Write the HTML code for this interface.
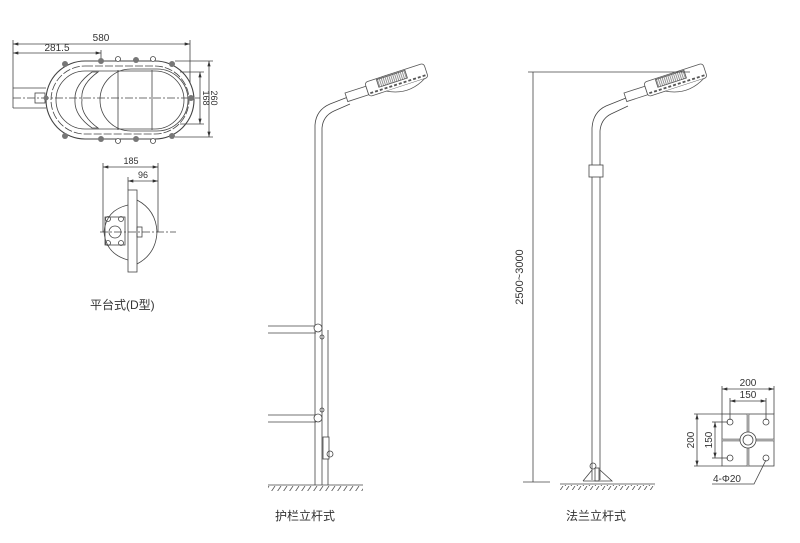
<!DOCTYPE html>
<html><head><meta charset="utf-8"><style>
html,body{margin:0;padding:0;background:#fff;}
svg{display:block;}
text{font-family:"Liberation Sans","Noto Sans CJK SC",sans-serif;fill:#333;}
</style></head><body>
<svg width="800" height="543" viewBox="0 0 800 543" xmlns="http://www.w3.org/2000/svg">
<defs>
<marker id="a" viewBox="0 0 10 6" refX="10" refY="3" markerWidth="7" markerHeight="4" orient="auto-start-reverse"><path d="M0,0L10,3L0,6z" fill="#333"/></marker>
<pattern id="h" width="6" height="6" patternUnits="userSpaceOnUse"><path d="M5,0L1,6" stroke="#555" stroke-width="0.8"/></pattern>
<pattern id="fins" width="2" height="7" patternUnits="userSpaceOnUse"><path d="M1,0V7" stroke="#666" stroke-width="0.7"/></pattern>
<g id="lamp" fill="#fff" stroke="#555" stroke-width="0.8">
 <rect x="0" y="0" width="22" height="9"/>
 <rect x="22" y="-4" width="62" height="15" rx="3"/>
 <rect x="34" y="-3" width="30" height="8" fill="url(#fins)"/>
 <path d="M40,11 Q60,22 80,11" fill="#fff"/>
 <path d="M24,8 H84" stroke-dasharray="3,2" stroke-width="1.8"/>
</g>
</defs>
<g stroke="#444" stroke-width="0.8" fill="none">
<line x1="13" y1="44" x2="190" y2="44" marker-start="url(#a)" marker-end="url(#a)"/>
<line x1="13" y1="53" x2="101" y2="53" marker-start="url(#a)" marker-end="url(#a)"/>
<line x1="13" y1="40" x2="13" y2="108"/>
<line x1="190" y1="40" x2="190" y2="98"/>
<line x1="101" y1="50" x2="101" y2="138"/>
<rect x="46" y="61" width="148" height="78" rx="39" fill="#fff" stroke-width="1.1"/>
<rect x="51" y="66" width="138" height="68" rx="34" stroke-dasharray="8,2"/>
<rect x="56" y="71" width="128" height="58" rx="29"/>
<rect x="100" y="69" width="88" height="62" rx="31"/>
<line x1="118" y1="70" x2="118" y2="130"/><line x1="152" y1="70" x2="152" y2="130"/>
<path d="M98,72 Q80,85 82,100 Q80,115 98,128 L92,128 Q74,115 75,100 Q74,85 92,72z"/>
<rect x="35" y="93" width="10" height="10"/>
<line x1="13" y1="98" x2="200" y2="98" stroke-dasharray="8,2,2,2"/>
<line x1="13" y1="88" x2="46" y2="88"/><line x1="13" y1="108" x2="46" y2="108"/>
<g fill="#777" stroke="none">
<circle cx="65" cy="64" r="3"/><circle cx="101" cy="61" r="3"/><circle cx="136" cy="60" r="3"/><circle cx="172" cy="64" r="3"/>
<circle cx="65" cy="136" r="3"/><circle cx="101" cy="139" r="3"/><circle cx="136" cy="139" r="3"/><circle cx="172" cy="136" r="3"/>
<circle cx="46" cy="98" r="2.5"/><circle cx="191" cy="98" r="3"/>
</g>
<g fill="#fff"><circle cx="118" cy="59" r="2.5"/><circle cx="153" cy="59" r="2.5"/><circle cx="118" cy="141" r="2.5"/><circle cx="153" cy="141" r="2.5"/></g>
<line x1="200" y1="72" x2="200" y2="124" marker-start="url(#a)" marker-end="url(#a)"/>
<line x1="209" y1="61" x2="209" y2="137" marker-start="url(#a)" marker-end="url(#a)"/>
<line x1="180" y1="72" x2="204" y2="72"/><line x1="180" y1="124" x2="204" y2="124"/>
<line x1="175" y1="61" x2="213" y2="61"/><line x1="175" y1="137" x2="213" y2="137"/>
<line x1="103" y1="167" x2="158" y2="167" marker-start="url(#a)" marker-end="url(#a)"/>
<line x1="128" y1="181" x2="158" y2="181" marker-start="url(#a)" marker-end="url(#a)"/>
<line x1="103" y1="163" x2="103" y2="232"/><line x1="158" y1="163" x2="158" y2="232"/><line x1="128" y1="177" x2="128" y2="190"/>
<rect x="128" y="190" width="9" height="82" fill="#fff"/>
<path d="M128,205 Q106,210 104,232 Q106,254 128,260"/>
<path d="M137,200 Q156,210 157,232 Q156,254 137,264"/>
<rect x="105" y="217" width="20" height="28"/>
<circle cx="108" cy="219" r="2.5"/><circle cx="121" cy="219" r="2.5"/><circle cx="108" cy="243" r="2.5"/><circle cx="121" cy="243" r="2.5"/>
<circle cx="115" cy="232" r="6"/>
<rect x="137" y="227" width="5" height="10"/>
<line x1="100" y1="232" x2="176" y2="232" stroke-dasharray="8,2,2,2"/>
<path d="M315,485 V125 Q316,110 330,104 L348,97"/>
<path d="M322,485 V128 Q323,116 334,111 L350,104"/>
<line x1="328" y1="330" x2="328" y2="485"/>
<line x1="268" y1="326" x2="316" y2="326"/><line x1="268" y1="333" x2="316" y2="333"/>
<line x1="268" y1="415" x2="316" y2="415"/><line x1="268" y1="422" x2="316" y2="422"/>
<circle cx="318" cy="328" r="4" fill="#fff"/><circle cx="318" cy="418" r="4" fill="#fff"/>
<circle cx="322" cy="337" r="2"/><circle cx="322" cy="410" r="2"/>
<rect x="323" y="437" width="6" height="22" fill="#fff"/><circle cx="330" cy="454" r="3"/>
<use href="#lamp" transform="translate(345,93) rotate(-18)"/>
<line x1="268" y1="485" x2="363" y2="485"/>
<rect x="268" y="486" width="95" height="5" fill="url(#h)" stroke="none"/>
<path d="M592,480 V128 Q593,112 606,106 L626,98"/>
<path d="M600,480 V131 Q601,119 611,114 L628,106"/>
<rect x="589" y="165" width="14" height="12" fill="#fff"/>
<use href="#lamp" transform="translate(624,93) rotate(-18)"/>
<line x1="528" y1="72" x2="690" y2="72"/>
<line x1="533" y1="72" x2="533" y2="482"/>
<line x1="523" y1="482" x2="550" y2="482"/>
<path d="M583,481 L592,470 M600,470 L612,481 H583"/>
<circle cx="593" cy="466" r="3"/>
<rect x="595" y="468" width="4" height="13"/>
<line x1="560" y1="484" x2="655" y2="484"/>
<rect x="560" y="485" width="95" height="5" fill="url(#h)" stroke="none"/>
<rect x="722" y="414" width="52" height="52" fill="#fff"/>
<line x1="748" y1="414" x2="748" y2="466" stroke-width="2.5"/><line x1="748" y1="414" x2="748" y2="466" stroke="#fff" stroke-width="1"/>
<line x1="722" y1="440" x2="774" y2="440" stroke-width="2.5"/><line x1="722" y1="440" x2="774" y2="440" stroke="#fff" stroke-width="1"/>
<circle cx="748" cy="440" r="8" fill="#fff"/><circle cx="748" cy="440" r="5"/>
<circle cx="730" cy="422" r="3"/><circle cx="766" cy="422" r="3"/><circle cx="730" cy="458" r="3"/><circle cx="766" cy="458" r="3"/>
<line x1="722" y1="389" x2="774" y2="389" marker-start="url(#a)" marker-end="url(#a)"/>
<line x1="730" y1="401" x2="766" y2="401" marker-start="url(#a)" marker-end="url(#a)"/>
<line x1="722" y1="386" x2="722" y2="414"/><line x1="774" y1="386" x2="774" y2="414"/>
<line x1="730" y1="398" x2="730" y2="420"/><line x1="766" y1="398" x2="766" y2="420"/>
<line x1="697" y1="414" x2="697" y2="466" marker-start="url(#a)" marker-end="url(#a)"/>
<line x1="715" y1="422" x2="715" y2="458" marker-start="url(#a)" marker-end="url(#a)"/>
<line x1="694" y1="414" x2="722" y2="414"/><line x1="694" y1="466" x2="722" y2="466"/>
<line x1="712" y1="422" x2="728" y2="422"/><line x1="712" y1="458" x2="728" y2="458"/>
<path d="M766,460 L754,484 H712"/>
</g>
<text x="101" y="41" font-size="10" text-anchor="middle">580</text>
<text x="57" y="51" font-size="10" text-anchor="middle">281.5</text>
<text transform="translate(203,98) rotate(90)" font-size="9" text-anchor="middle">168</text>
<text transform="translate(211,98) rotate(90)" font-size="9" text-anchor="middle">260</text>
<text x="131" y="164" font-size="9" text-anchor="middle">185</text>
<text x="143" y="178" font-size="9" text-anchor="middle">96</text>
<text x="90" y="309" font-size="12">平台式(D型)</text>
<text x="305" y="520" font-size="12" text-anchor="middle">护栏立杆式</text>
<text x="596" y="520" font-size="12" text-anchor="middle">法兰立杆式</text>
<text transform="translate(523,277) rotate(-90)" font-size="11" text-anchor="middle">2500~3000</text>
<text x="748" y="386" font-size="10" text-anchor="middle">200</text>
<text x="748" y="398" font-size="10" text-anchor="middle">150</text>
<text transform="translate(694,440) rotate(-90)" font-size="10" text-anchor="middle">200</text>
<text transform="translate(712,440) rotate(-90)" font-size="10" text-anchor="middle">150</text>
<text x="713" y="482" font-size="10">4-Φ20</text>
</svg>
</body></html>
